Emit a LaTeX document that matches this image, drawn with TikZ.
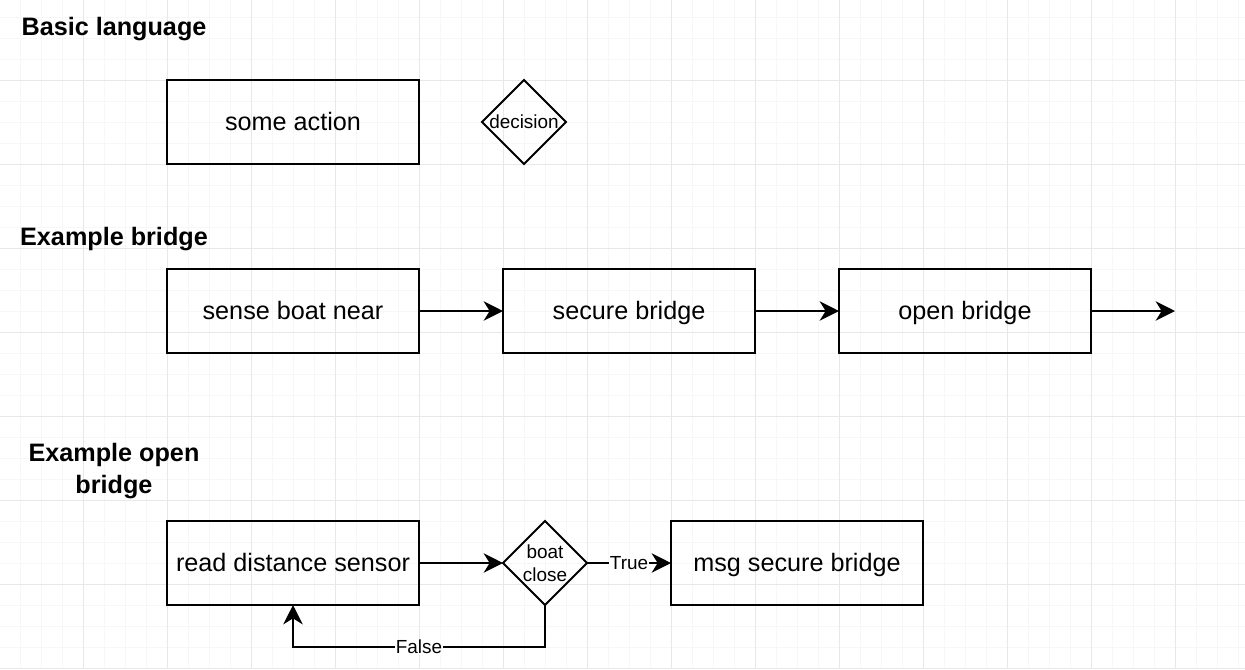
\documentclass[tikz,border=0pt]{standalone}
\usepackage{fontspec}
\setmainfont{Liberation Sans}
\usepackage{tikz}
\usetikzlibrary{arrows.meta,positioning,shapes.geometric}

\begin{document}
\begin{tikzpicture}
    [x=0.75pt,y=-0.75pt,
      minorgrid/.style={draw=black!3,line width=0.75pt},
      majorgrid/.style={draw=black!9,line width=0.75pt},
      heading/.style={font=\fontsize{18.9}{24}\selectfont\bfseries,align=center},
      oneline/.style={text height=17.1pt,text depth=4pt},
      action/.style={draw,line width=1.5pt,outer sep=0pt,minimum width=189pt,minimum height=63pt,
          font=\fontsize{18.9}{22}\selectfont,oneline},
      decision/.style={diamond,draw,line width=1.5pt,outer sep=0pt,inner sep=0pt,aspect=1,
          minimum width=63pt,minimum height=63pt,align=center,font=\fontsize{14.2}{17.25}\selectfont},
      flow/.style={line width=1.5pt,-{Stealth[length=14.5pt,width=14.5pt,inset=4.5pt]}},
      tag/.style={fill=white,inner sep=1pt,font=\fontsize{14.2}{17}\selectfont},
    ]
    \useasboundingbox (0,0) rectangle (1245,669);
    % grid
    \foreach \gx in {20,41,...,1245} \draw[minorgrid] (\gx,0) -- (\gx,669);
    \foreach \gy in {17,38,...,669} \draw[minorgrid] (0,\gy) -- (1245,\gy);
    \foreach \gx in {83,167,...,1245} \draw[majorgrid] (\gx,0) -- (\gx,669);
    \foreach \gy in {80,164,...,669} \draw[majorgrid] (0,\gy) -- (1245,\gy);

    % basic language
    \node [heading, oneline] (basic) at (114,27) {Basic language};
    \node [action] (someaction) at (293,122) {some action};
    \node [decision] (dec) at (524,122) {decision};

    % example bridge
    \node [heading, oneline] (bridge) at (114,237) {Example bridge};
    \node [action] (sense) at (293,311) {sense boat near};
    \node [action, right=63pt of sense] (secure) {secure bridge};
    \node [action, right=63pt of secure] (open) {open bridge};
    \coordinate [right=63pt of open] (next);
    \draw [flow] (sense) -- (secure);
    \draw [flow] (secure) -- (open);
    \draw [flow] (open) -- (next);

    % example open bridge
    \node [heading] (openbridge) at (114,471) {Example open\\bridge};
    \node [action] (read) at (293,563) {read distance sensor};
    \node [decision, right=63pt of read] (close) {boat\\close};
    \node [action, right=63pt of close] (msg) {msg secure bridge};
    \draw [flow] (read) -- (close);
    \draw [flow] (close) -- node [tag] {True} (msg);
    \draw [flow] (close.south) -- ++(0,42) -| node [tag, pos=0.25] {False} (read.south);
  \end{tikzpicture}
\end{document}
